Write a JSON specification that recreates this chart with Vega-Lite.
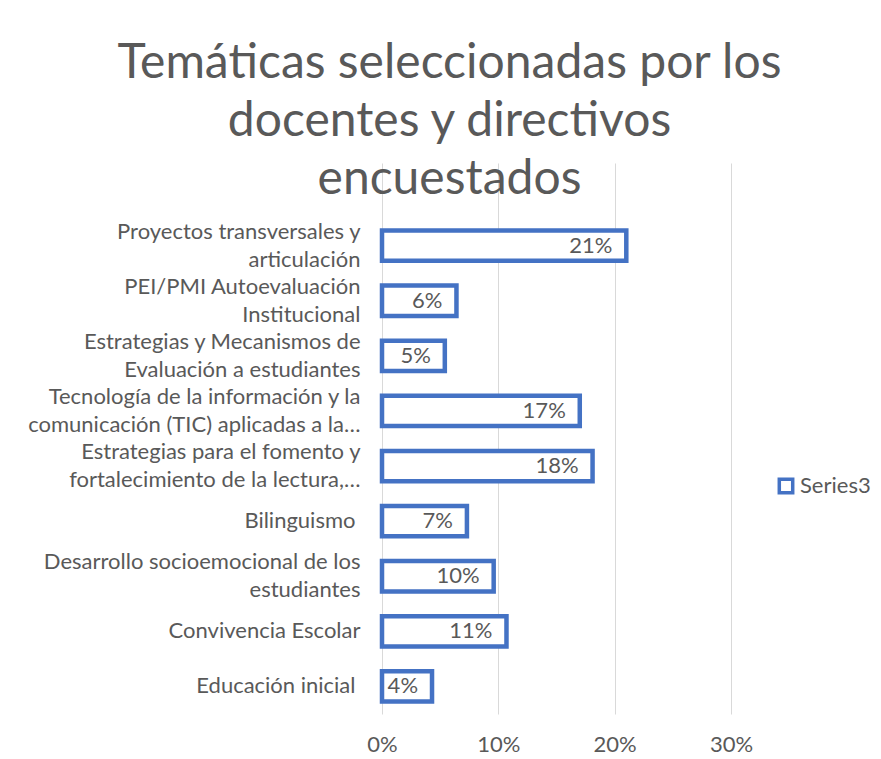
{
  "$schema": "https://vega.github.io/schema/vega-lite/v6.json",
  "width": 349,
  "height": 551,
  "autosize": {"type": "none"},
  "padding": {"left": 382, "top": 163, "right": 150, "bottom": 45},
  "background": "white",
  "title": {
    "text": ["Temáticas seleccionadas por los", "docentes y directivos", "encuestados"],
    "font": "Lato",
    "fontSize": 48,
    "fontWeight": 400,
    "color": "#595959",
    "anchor": "middle",
    "frame": "group",
    "dx": -107,
    "lineHeight": 58,
    "offset": -41
  },
  "data": {
    "values": [
      {"cat": "Proyectos transversales y|articulación", "v": 0.210},
      {"cat": "PEI/PMI Autoevaluación|Institucional", "v": 0.064},
      {"cat": "Estrategias y Mecanismos de|Evaluación a estudiantes", "v": 0.054},
      {"cat": "Tecnología de la información y la|comunicación (TIC) aplicadas a la…", "v": 0.170},
      {"cat": "Estrategias para el fomento y|fortalecimiento de la lectura,…", "v": 0.181},
      {"cat": "Bilinguismo", "v": 0.073},
      {"cat": "Desarrollo socioemocional de los|estudiantes", "v": 0.096},
      {"cat": "Convivencia Escolar", "v": 0.107},
      {"cat": "Educación inicial", "v": 0.043}
    ]
  },
  "config": {
    "view": {"stroke": null},
    "font": "Lato",
    "axis": {"labelFont": "Lato", "labelColor": "#595959", "labelFontSize": 22}
  },
  "encoding": {
    "y": {
      "field": "cat",
      "type": "nominal",
      "sort": null,
      "scale": {
        "domain": [" ", "Proyectos transversales y|articulación", "PEI/PMI Autoevaluación|Institucional", "Estrategias y Mecanismos de|Evaluación a estudiantes", "Tecnología de la información y la|comunicación (TIC) aplicadas a la…", "Estrategias para el fomento y|fortalecimiento de la lectura,…", "Bilinguismo", "Desarrollo socioemocional de los|estudiantes", "Convivencia Escolar", "Educación inicial"],
        "paddingInner": 0.45,
        "paddingOuter": 0.225
      },
      "axis": {
        "title": null,
        "domain": false,
        "ticks": false,
        "labelPadding": {"condition": {"test": "datum.value == 'Bilinguismo' || datum.value == 'Educación inicial'", "value": 27}, "value": 22},
        "labelLineHeight": 28,
        "labelLimit": 400,
        "labelOffset": {"condition": {"test": "indexof(datum.value, '|') >= 0", "value": -14}, "value": 0},
        "labelExpr": "split(datum.value, '|')"
      }
    },
    "x": {
      "field": "v",
      "type": "quantitative",
      "scale": {"domain": [0, 0.3], "nice": false},
      "axis": {
        "title": null,
        "format": ".0%",
        "values": [0, 0.1, 0.2, 0.3],
        "domain": false,
        "ticks": false,
        "grid": true,
        "gridColor": "#D9D9D9",
        "gridWidth": 1,
        "labelFlush": false,
        "labelPadding": 20
      }
    }
  },
  "layer": [
    {
      "mark": {"type": "bar", "fill": "white", "strokeWidth": 4.5},
      "encoding": {
        "stroke": {
          "datum": "Series3",
          "scale": {"range": ["#4472C4"]},
          "legend": {
            "title": null,
            "orient": "none",
            "legendX": 393,
            "legendY": 312,
            "symbolType": "square",
            "symbolSize": 180,
            "symbolStrokeWidth": 3.5,
            "symbolFillColor": "white",
            "labelFont": "Lato",
            "labelFontSize": 22,
            "labelColor": "#595959",
            "labelOffset": 3
          }
        }
      }
    },
    {
      "mark": {"type": "text", "align": "right", "dx": -14, "fontSize": 22, "font": "Lato", "color": "#595959"},
      "encoding": {
        "text": {"field": "v", "type": "quantitative", "format": ".0%"}
      }
    }
  ]
}
